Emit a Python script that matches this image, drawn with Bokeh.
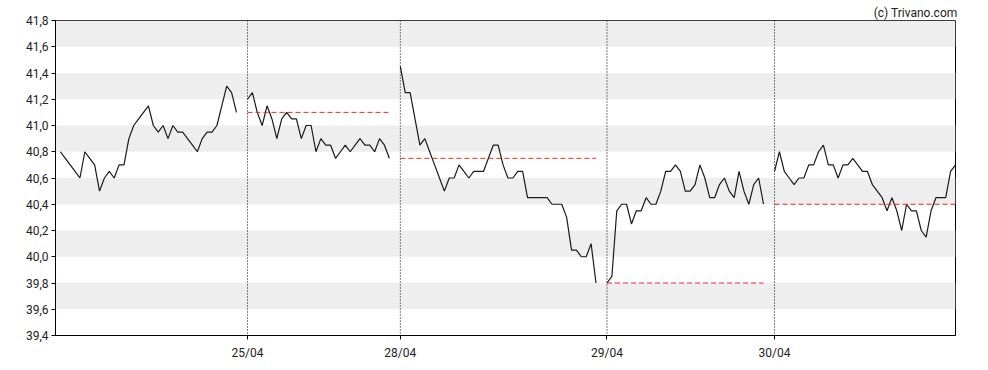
from bokeh.plotting import figure
from bokeh.models import FixedTicker, CustomJSTickFormatter, Span, Range1d
from bokeh.embed import file_html
from bokeh.resources import INLINE

# ---- data ----
day_labels = ["24/04", "25/04", "28/04", "29/04", "30/04"]
day1 = [40.8, 40.75, 40.7, 40.65, 40.6, 40.8, 40.75, 40.7, 40.5, 40.6, 40.65, 40.6, 40.7,
        40.7, 40.9, 41.0, 41.05, 41.1, 41.15, 41.0, 40.95, 41.0, 40.9, 41.0, 40.95, 40.95,
        40.9, 40.85, 40.8, 40.9, 40.95, 40.95, 41.0, 41.15, 41.3, 41.25, 41.1]
day2 = [41.2, 41.25, 41.1, 41.0, 41.15, 41.05, 40.9, 41.05, 41.1, 41.05, 41.05, 40.9, 41.0,
        41.0, 40.8, 40.9, 40.85, 40.85, 40.75, 40.8, 40.85, 40.8, 40.85, 40.9, 40.85, 40.85,
        40.8, 40.9, 40.85, 40.75]
day3 = [41.45, 41.25, 41.25, 41.05, 40.85, 40.9, 40.8, 40.7, 40.6, 40.5, 40.6, 40.6, 40.7,
        40.65, 40.6, 40.65, 40.65, 40.65, 40.75, 40.85, 40.85, 40.7, 40.6, 40.6, 40.65, 40.65,
        40.45, 40.45, 40.45, 40.45, 40.45, 40.4, 40.4, 40.4, 40.3, 40.05, 40.05, 40.0, 40.0,
        40.1, 39.8]
day4 = [39.8, 39.85, 40.35, 40.4, 40.4, 40.25, 40.35, 40.35, 40.45, 40.4, 40.4, 40.5, 40.65,
        40.65, 40.7, 40.65, 40.5, 40.5, 40.55, 40.7, 40.6, 40.45, 40.45, 40.55, 40.6, 40.5,
        40.45, 40.65, 40.5, 40.4, 40.55, 40.6, 40.4]
day5 = [40.65, 40.8, 40.65, 40.6, 40.55, 40.6, 40.6, 40.7, 40.7, 40.8, 40.85, 40.7, 40.7,
        40.6, 40.7, 40.7, 40.75, 40.7, 40.65, 40.65, 40.55, 40.5, 40.45, 40.35, 40.45, 40.35,
        40.2, 40.4, 40.35, 40.35, 40.2, 40.15, 40.35, 40.45, 40.45, 40.45, 40.65, 40.7]
days = [day1, day2, day3, day4, day5]
y_ticks = [39.4, 39.6, 39.8, 40.0, 40.2, 40.4, 40.6, 40.8, 41.0, 41.2, 41.4, 41.6, 41.8]
watermark = "(c) Trivano.com"

GAP = 2.25  # x distance between a day's last point and next day's first point
starts = []
pos = 0.0
for d in days:
    starts.append(pos)
    pos += (len(d) - 1) + GAP
x_end = starts[-1] + len(days[-1]) - 1

p = figure(width=988, height=370, output_backend="svg", toolbar_location=None,
           x_range=Range1d(-1, x_end), y_range=Range1d(39.4, 41.8),
           min_border_left=55, min_border_right=33, min_border_top=20, min_border_bottom=35)
p.background_fill_color = "white"
p.border_fill_color = "white"
p.outline_line_color = "black"
p.outline_line_width = 1

p.title.text = watermark
p.title.align = "right"
p.title.text_font = "Roboto"
p.title.text_font_size = "12px"
p.title.text_font_style = "normal"
p.title.text_color = "#222222"
p.title.offset = -2
p.title.standoff = 2

p.xgrid.grid_line_color = None
p.ygrid.grid_line_color = None
p.ygrid.band_fill_color = "#eeeeee"
p.ygrid.band_fill_alpha = 1.0

p.yaxis.ticker = FixedTicker(ticks=y_ticks)
p.yaxis.formatter = CustomJSTickFormatter(code="return tick.toFixed(1).replace('.', ',');")
p.xaxis.ticker = FixedTicker(ticks=starts[1:])
p.xaxis.major_label_overrides = {s: lab for s, lab in zip(starts[1:], day_labels[1:])}

for ax in (p.xaxis[0], p.yaxis[0]):
    ax.axis_line_color = "black"
    ax.axis_line_width = 1
    ax.major_tick_line_color = "black"
    ax.major_tick_out = 4
    ax.major_tick_in = 0
    ax.minor_tick_line_color = None
    ax.major_label_text_font = "Roboto"
    ax.major_label_text_font_size = "12px"
    ax.major_label_text_color = "#222222"
p.yaxis.major_label_standoff = 3
p.xaxis.major_label_standoff = 6

for s in starts[1:]:
    p.add_layout(Span(location=s, dimension="height", line_color="black",
                      line_width=1, line_dash="1 2"))

for i, (s, d) in enumerate(zip(starts, days)):
    xs = [s + k for k in range(len(d))]
    p.line(xs, d, line_color="#1a1a1a", line_width=1.2)
    if i > 0:
        prev_close = days[i - 1][-1]
        p.segment(x0=[s], y0=[prev_close], x1=[xs[-1]], y1=[prev_close],
                  line_color="#ff2020", line_width=1, line_dash="5 3")

open("out.html", "w").write(file_html(p, INLINE))
